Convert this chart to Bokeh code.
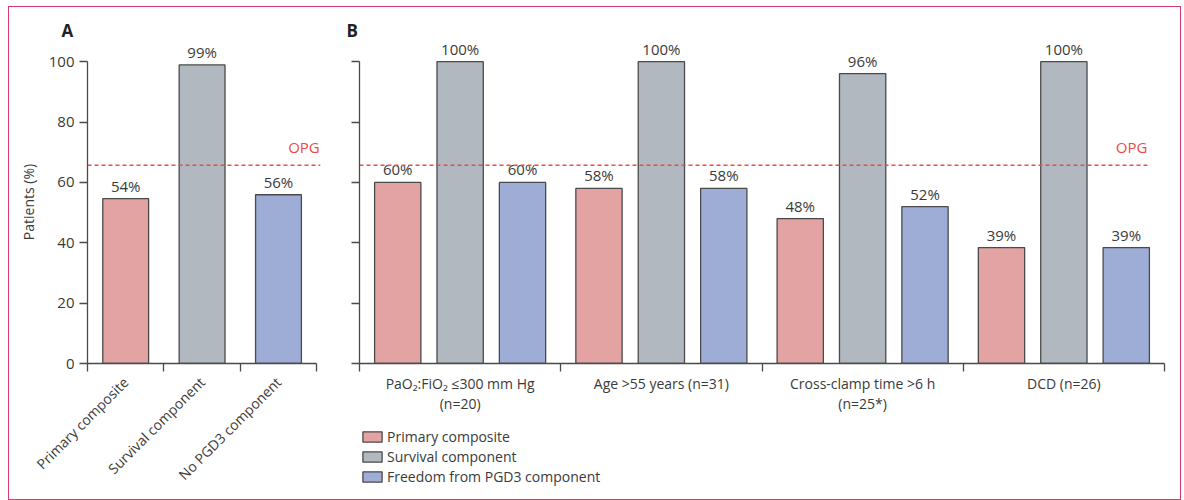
from math import pi
from bokeh.plotting import figure
from bokeh.models import Range1d, FixedTicker, Span, Label, Legend, LegendItem
from bokeh.layouts import row, column
from bokeh.embed import file_html
from bokeh.resources import INLINE
from bokeh.core.properties import value

# ---------------- data ----------------
a_categories = ["Primary composite", "Survival component", "No PGD3 component"]
a_values = [54.6, 98.9, 55.9]
a_labels = ["54%", "99%", "56%"]

b_groups = ["PaO\u2082:FiO\u2082 \u2264300 mm Hg\n(n=20)", "Age >55 years (n=31)",
            "Cross-clamp time >6 h\n(n=25*)", "DCD (n=26)"]
b_series = ["Primary composite", "Survival component", "Freedom from PGD3 component"]
b_primary = [60.0, 58.0, 48.0, 38.4]
b_survival = [100.0, 100.0, 96.0, 100.0]
b_freedom = [60.0, 58.0, 52.0, 38.4]
b_primary_labels = ["60%", "58%", "48%", "39%"]
b_survival_labels = ["100%", "100%", "96%", "100%"]
b_freedom_labels = ["60%", "58%", "52%", "39%"]

opg = 65.7
y_ticks = [0, 20, 40, 60, 80, 100]

# ---------------- style ----------------
PINK = "#E2A3A2"
GRAY = "#B1B8BF"
BLUE = "#9DADD6"
EDGE = "#4A4A4A"
RED = "#EE4A46"
TXT = "#3A3A3A"
FONT = "Open Sans"
BORDER = "#D63A6C"
series_colors = [PINK, GRAY, BLUE]

H = 492
TOP = 33
FRAME_BOTTOM = 356          # frame bottom, px from top of the figures
Y_END = 107
HL = 74                      # height of the legend strip under panel B
HB = H - HL


def style_common(p, letter, letter_offset):
    p.xgrid.visible = False
    p.ygrid.visible = False
    p.outline_line_color = None
    for ax in (p.xaxis, p.yaxis):
        ax.axis_line_color = EDGE
        ax.axis_line_width = 1.3
        ax.major_tick_line_color = EDGE
        ax.minor_tick_line_color = EDGE
        ax.major_tick_line_width = 1.3
        ax.minor_tick_line_width = 1.3
        ax.major_label_text_font = FONT
        ax.major_label_text_color = TXT
    p.yaxis.ticker = FixedTicker(ticks=y_ticks)
    p.yaxis.bounds = (0, 100)
    p.yaxis.major_tick_out = 8
    p.yaxis.major_tick_in = 0
    p.yaxis.minor_tick_out = 0
    p.yaxis.minor_tick_in = 0
    p.xaxis.major_tick_out = 0
    p.xaxis.major_tick_in = 0
    p.xaxis.minor_tick_out = 8
    p.xaxis.minor_tick_in = 0
    p.title.text = letter
    p.title.align = "left"
    p.title.offset = letter_offset
    p.title.standoff = -2
    p.title.text_font = FONT
    p.title.text_font_style = "bold"
    p.title.text_font_size = "17px"
    p.title.text_color = "#222222"


# ---------------- panel A ----------------
nA = len(a_categories)
pA = figure(width=330, height=H, x_range=Range1d(0, nA + 0.05), y_range=Range1d(0, Y_END),
            output_backend="svg", toolbar_location=None,
            min_border_left=78, min_border_right=19, min_border_top=TOP,
            min_border_bottom=H - FRAME_BOTTOM)
style_common(pA, "A", -26)
a_x = [i + 0.5 for i in range(nA)]
pA.xaxis.ticker = FixedTicker(ticks=a_x, minor_ticks=list(range(nA + 1)))
pA.xaxis.bounds = (0, nA)
pA.xaxis.major_label_overrides = {x: c for x, c in zip(a_x, a_categories)}
pA.xaxis.major_label_orientation = pi / 4
pA.xaxis.major_label_text_font_size = "14px"
pA.xaxis.major_label_standoff = 8
pA.yaxis.major_label_text_font_size = "15px"
pA.yaxis.axis_label = "Patients (%)"
pA.yaxis.axis_label_text_font = FONT
pA.yaxis.axis_label_text_font_style = "normal"
pA.yaxis.axis_label_text_font_size = "14px"
pA.yaxis.axis_label_text_color = TXT
pA.yaxis.axis_label_standoff = 8

pA.vbar(x=a_x, top=a_values, width=0.6, fill_color=series_colors,
        line_color=EDGE, line_width=1.3)
pA.text(x=a_x, y=a_values, text=a_labels, text_align="center", text_baseline="bottom",
        y_offset=-3, text_font=value(FONT), text_font_size="15px", text_color=TXT)
pA.add_layout(Span(location=opg, dimension="width", line_color=RED, line_width=1.5,
                   line_dash="4 3"))
pA.add_layout(Label(x=nA + 0.04, y=opg, text="OPG", text_align="right", text_baseline="bottom",
                    y_offset=8, text_color=RED, text_font=FONT, text_font_size="15px"))

# ---------------- panel B ----------------
nB = len(b_groups)
OPG_END = 3.915
pB = figure(width=841, height=HB, x_range=Range1d(0, nB), y_range=Range1d(0, Y_END),
            output_backend="svg", toolbar_location=None,
            min_border_left=20, min_border_right=16, min_border_top=TOP,
            min_border_bottom=HB - FRAME_BOTTOM)
style_common(pB, "B", -13)
g_x = [i + 0.5 for i in range(nB)]
pB.xaxis.ticker = FixedTicker(ticks=g_x, minor_ticks=list(range(nB + 1)))
pB.xaxis.major_label_overrides = {x: g for x, g in zip(g_x, b_groups)}
pB.xaxis.major_label_text_font_size = "14px"
pB.xaxis.major_label_text_line_height = 1.1
pB.xaxis.major_label_standoff = 2
pB.yaxis.major_label_overrides = {t: "" for t in y_ticks}
pB.yaxis.major_label_standoff = 0

# legend strip under panel B (its frame is aligned with panel B's frame)
pL = figure(width=841, height=HL, x_range=pB.x_range, y_range=Range1d(0, 1),
            output_backend="svg", toolbar_location=None, x_axis_type=None, y_axis_type=None,
            min_border=0)
pL.outline_line_color = None
pL.xgrid.visible = False
pL.ygrid.visible = False

offsets = [-0.31, 0.0, 0.31]
b_vals = [b_primary, b_survival, b_freedom]
b_labs = [b_primary_labels, b_survival_labels, b_freedom_labels]
items = []
for name, vals, labs, col, off in zip(b_series, b_vals, b_labs, series_colors, offsets):
    xs = [g + off for g in g_x]
    pB.vbar(x=xs, top=vals, width=0.23, fill_color=col, line_color=EDGE, line_width=1.3)
    pB.text(x=xs, y=vals, text=labs, text_align="center", text_baseline="bottom",
            y_offset=-3, text_font=value(FONT), text_font_size="15px", text_color=TXT)
    # hidden twin of the series, only used as the legend's glyph
    r = pL.vbar(x=xs, top=vals, width=0.23, fill_color=col, line_color=EDGE, line_width=1.3,
                visible=False)
    items.append(LegendItem(label=name, renderers=[r]))

pB.segment(x0=[0], y0=[opg], x1=[OPG_END], y1=[opg], line_color=RED, line_width=1.5,
           line_dash="4 3")
pB.add_layout(Label(x=OPG_END, y=opg, text="OPG", text_align="right", text_baseline="bottom",
                    y_offset=8, text_color=RED, text_font=FONT, text_font_size="15px"))

lg = Legend(items=items, location=(1, 13), orientation="vertical",
            label_text_font=FONT, label_text_font_size="14px", label_text_color=TXT,
            glyph_width=24, glyph_height=13, label_height=20, label_standoff=3,
            spacing=0, padding=0, margin=0, border_line_color=None,
            background_fill_alpha=0, click_policy="none", inactive_fill_alpha=0)
pL.add_layout(lg)

layout = row(pA, column(pB, pL), margin=(6, 0, 0, 8),
             styles={"border": f"1px solid {BORDER}"})

open("out.html", "w").write(file_html(layout, INLINE))
